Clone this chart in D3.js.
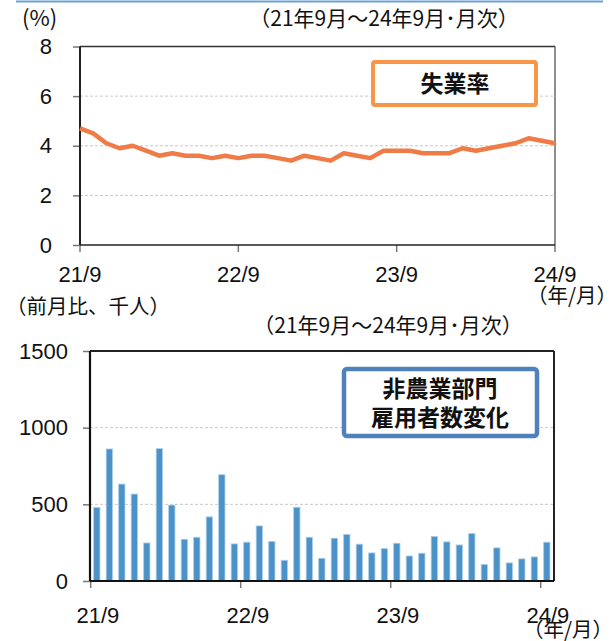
<!DOCTYPE html>
<html><head><meta charset="utf-8">
<script src="https://cdn.jsdelivr.net/npm/d3@7/dist/d3.min.js"></script>
<style>
html,body{margin:0;padding:0;background:#fff;}
svg{display:block;}
.num{font-family:"Liberation Sans",Arial,sans-serif;font-size:22px;fill:#111;}
.jp{font-family:"Noto Sans CJK JP","Noto Sans CJK SC",sans-serif;font-size:21px;fill:#111;}
.leg{font-family:"Noto Sans CJK JP","Noto Sans CJK SC",sans-serif;font-size:23px;font-weight:bold;fill:#111;}
</style></head><body>
<svg id="c" width="616" height="641"></svg>
<script>
// ---- data ----
const months = d3.range(37); // 21/9 .. 24/9 monthly
const xTickIdx = [0, 12, 24, 36];
const xTickLabels = ["21/9", "22/9", "23/9", "24/9"];
const unempTicks = [0, 2, 4, 6, 8];
const unemp = [4.7,4.5,4.1,3.9,4.0,3.8,3.6,3.7,3.6,3.6,3.5,3.6,3.5,3.6,3.6,3.5,3.4,3.6,3.5,3.4,
               3.7,3.6,3.5,3.8,3.8,3.8,3.7,3.7,3.7,3.9,3.8,3.9,4.0,4.1,4.3,4.2,4.1];
const nfpTicks = [0, 500, 1000, 1500];
const nfp = [479,861,632,567,248,863,495,272,285,418,693,242,253,359,257,135,481,285,148,279,
             303,240,183,211,246,163,181,290,255,235,309,107,216,118,144,157,253];

const svg = d3.select("#c");

svg.append("line").attr("x1",16).attr("x2",603).attr("y1",1.5).attr("y2",1.5)
  .attr("stroke","#6a9fd4").attr("stroke-width",2);

// ================= TOP CHART =================
const x1 = d3.scaleLinear().domain([0,36]).range([80,555]);
const y1 = d3.scaleLinear().domain([0,8]).range([245,46.5]);

svg.append("g").selectAll("line").data(unempTicks.filter(v=>v>0&&v<8)).join("line")
  .attr("x1",80).attr("x2",555).attr("y1",d=>y1(d)).attr("y2",d=>y1(d))
  .attr("stroke","#c8c8c8").attr("stroke-dasharray","3,2").attr("stroke-width",1);

const ya1 = d3.axisLeft(y1).tickValues(unempTicks).tickSize(7).tickPadding(21).tickFormat(d3.format("d"));
const gy1 = svg.append("g").attr("transform","translate(80,0)").call(ya1);
gy1.select(".domain").remove();
gy1.selectAll(".tick line").attr("stroke","#777").attr("stroke-width",1.5);
gy1.selectAll(".tick text").attr("class","num").attr("font-size",null).attr("font-family",null).attr("fill",null);

svg.append("g").selectAll("line").data(xTickIdx).join("line")
  .attr("x1",d=>x1(d)).attr("x2",d=>x1(d)).attr("y1",245).attr("y2",252)
  .attr("stroke","#777").attr("stroke-width",1.5);
svg.append("g").selectAll("text").data(xTickIdx).join("text")
  .attr("class","num").attr("x",d=>x1(d)).attr("y",282).attr("text-anchor","middle")
  .text((d,i)=>xTickLabels[i]);

svg.append("line").attr("x1",80).attr("x2",555).attr("y1",46.5).attr("y2",46.5).attr("stroke","#333").attr("stroke-width",1.3);
svg.append("line").attr("x1",555).attr("x2",555).attr("y1",46.5).attr("y2",245).attr("stroke","#444").attr("stroke-width",1.2);
svg.append("line").attr("x1",80).attr("x2",80).attr("y1",46.5).attr("y2",245).attr("stroke","#222").attr("stroke-width",2);
svg.append("line").attr("x1",80).attr("x2",555).attr("y1",245).attr("y2",245).attr("stroke","#222").attr("stroke-width",1.6);

svg.append("path").datum(unemp)
  .attr("d", d3.line().x((d,i)=>x1(months[i])).y(d=>y1(d)))
  .attr("fill","none").attr("stroke","#ef7b47").attr("stroke-width",4.5).attr("stroke-linejoin","round");

svg.append("rect").attr("x",373).attr("y",62).attr("width",163).attr("height",43).attr("rx",2)
  .attr("fill","#fff").attr("stroke","#f79646").attr("stroke-width",4);
svg.append("text").attr("class","leg").attr("x",455).attr("y",84).attr("dy","0.36em")
  .attr("text-anchor","middle").text("失業率");

// texts
svg.append("text").attr("class","jp").style("font-size","22px").attr("x",22).attr("y",18).attr("dy","0.36em").text("(%)");
svg.append("text").attr("class","jp").attr("x",384).attr("y",18).attr("dy","0.36em").attr("text-anchor","middle").text("（21年9月～24年9月･月次）");
svg.append("text").attr("class","jp").style("font-size","20.5px").attr("x",572).attr("y",296).attr("dy","0.36em").attr("text-anchor","middle").text("（年/月）");
svg.append("text").attr("class","jp").style("font-size","20.5px").attr("x",6).attr("y",307).attr("dy","0.36em").text("（前月比、千人）");
svg.append("text").attr("class","jp").attr("x",388).attr("y",325).attr("dy","0.36em").attr("text-anchor","middle").text("（21年9月～24年9月･月次）");

// ================= BOTTOM CHART =================
const x2 = d3.scaleBand().domain(months).range([90.7,553.2]).padding(0);
const y2 = d3.scaleLinear().domain([0,1500]).range([581,351]);

svg.append("g").selectAll("line").data(nfpTicks.filter(v=>v>0&&v<1500)).join("line")
  .attr("x1",90).attr("x2",554).attr("y1",d=>y2(d)).attr("y2",d=>y2(d))
  .attr("stroke","#c8c8c8").attr("stroke-dasharray","3,2").attr("stroke-width",1);

const ya2 = d3.axisLeft(y2).tickValues(nfpTicks).tickSize(7).tickPadding(15).tickFormat(d3.format("d"));
const gy2 = svg.append("g").attr("transform","translate(90,0)").call(ya2);
gy2.select(".domain").remove();
gy2.selectAll(".tick line").attr("stroke","#777").attr("stroke-width",1.5);
gy2.selectAll(".tick text").attr("class","num").attr("font-size",null).attr("font-family",null).attr("fill",null);

svg.append("g").selectAll("rect").data(nfp).join("rect")
  .attr("x",(d,i)=>x2(months[i]) + x2.bandwidth()*0.24)
  .attr("width",x2.bandwidth()*0.5)
  .attr("y",d=>y2(d)).attr("height",d=>y2(0)-y2(d))
  .attr("fill","#4b92c9").attr("stroke","#a8cbe8").attr("stroke-width",0.8);

svg.append("g").selectAll("line").data(xTickIdx).join("line")
  .attr("x1",d=>x2(d)).attr("x2",d=>x2(d)).attr("y1",581).attr("y2",588)
  .attr("stroke","#777").attr("stroke-width",1.5);
svg.append("g").selectAll("text").data(xTickIdx).join("text")
  .attr("class","num").attr("x",d=>x2(d)+x2.bandwidth()/2+1).attr("y",623).attr("text-anchor","middle")
  .text((d,i)=>xTickLabels[i]);

svg.append("line").attr("x1",90).attr("x2",554).attr("y1",351).attr("y2",351).attr("stroke","#222").attr("stroke-width",2);
svg.append("line").attr("x1",554).attr("x2",554).attr("y1",351).attr("y2",581).attr("stroke","#222").attr("stroke-width",2);
svg.append("line").attr("x1",90).attr("x2",90).attr("y1",351).attr("y2",581).attr("stroke","#111").attr("stroke-width",2.2);
svg.append("line").attr("x1",90).attr("x2",554).attr("y1",581).attr("y2",581).attr("stroke","#111").attr("stroke-width",2.2);

svg.append("rect").attr("x",344).attr("y",369).attr("width",193).attr("height",67).attr("rx",3)
  .attr("fill","#fff").attr("stroke","#4f81bd").attr("stroke-width",4.5);
svg.append("text").attr("class","leg").attr("x",440).attr("y",389).attr("dy","0.36em")
  .attr("text-anchor","middle").text("非農業部門");
svg.append("text").attr("class","leg").attr("x",440).attr("y",418).attr("dy","0.36em")
  .attr("text-anchor","middle").text("雇用者数変化");

svg.append("text").attr("class","jp").style("font-size","20.5px").attr("x",568).attr("y",630).attr("dy","0.36em").attr("text-anchor","middle").text("（年/月）");
</script>
</body></html>
